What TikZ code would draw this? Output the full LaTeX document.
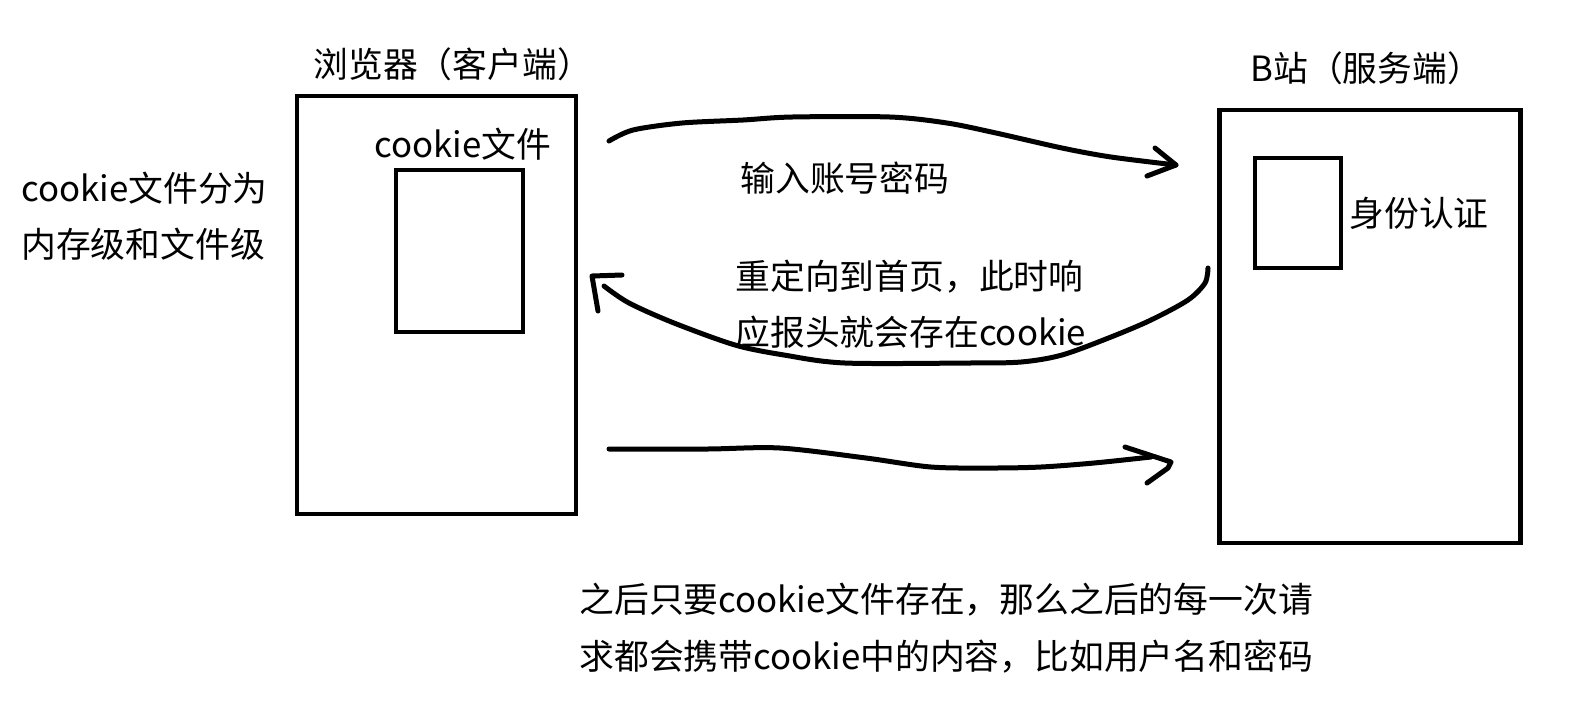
\documentclass[tikz,border=0pt]{standalone}
\usepackage{fontspec}
\setmainfont{Noto Sans CJK SC}
\begin{document}
\begin{tikzpicture}[x=0.5pt,y=-0.5pt,
  box/.style={draw=black,line width=2.2pt,fill=none,inner sep=0pt},
  stroke/.style={draw=black,line width=2.5pt,line cap=round,line join=round},
  lbl/.style={inner sep=0pt,anchor=west,text=black,font=\fontsize{17.4}{17.4}\selectfont}]
\useasboundingbox[fill=white] (0,0) rectangle (1570,720);
\draw[box] (297,96) rectangle (576,514);
\draw[box] (396,170) rectangle (523,332);
\draw[box] (1219.5,110) rectangle (1520.5,543);
\draw[box] (1255,158) rectangle (1341,268);
\node[lbl] (client) at (313,64) {浏览器（客户端）};
\node[lbl] (server) at (1250,68) {B站（服务端）};
\node[lbl] (cfile) at (374,144) {cookie文件};
\node[lbl] (auth) at (1349,213) {身份认证};
\node[lbl] (l1) at (21,188) {cookie文件分为};
\node[lbl] (l2) at (21,244) {内存级和文件级};
\node[lbl] (in) at (740,178) {输入账号密码};
\node[lbl] (r1) at (735,277) {重定向到首页，此时响};
\node[lbl] (r2) at (735,332) {应报头就会存在cookie};
\node[lbl] (n1) at (579,600) {之后只要cookie文件存在，那么之后的每一次请};
\node[lbl] (n2) at (579,657) {求都会携带cookie中的内容，比如用户名和密码};
% arrow 1
\coordinate (a1s) at (609,141);
\coordinate (a1e) at (1176,165);
\draw[stroke] plot[smooth,tension=0.5] coordinates {(a1s) (633,130) (682,123) (743,120) (792,117) (890,117) (947,123) (996,133) (1062,148) (1111,157) (a1e)};
\draw[stroke] (1155,148) -- (a1e) -- (1147,176);
% arrow 2
\coordinate (a2s) at (1208,268);
\coordinate (a2e) at (604,286);
\draw[stroke] plot[smooth,tension=0.5] coordinates {(a2s) (1205,283) (1188,300) (1151,320) (1111,337) (1062,355) (1021,362) (968,363) (845,363) (784,355) (735,345) (674,323) (629,303) (a2e)};
\draw[stroke] (622,275) -- (592,276) -- (598,311);
% arrow 3
\coordinate (a3s) at (609,449);
\coordinate (a3e) at (1151,457);
\draw[stroke] plot[smooth,tension=0.5] coordinates {(a3s) (707,449) (780,448) (866,458) (931,467) (992,468) (1041,467) (1094,463) (a3e)};
\draw[stroke] (1125,447) -- (1171,462) -- (1168,468) -- (1147,483);
\end{tikzpicture}
\end{document}
